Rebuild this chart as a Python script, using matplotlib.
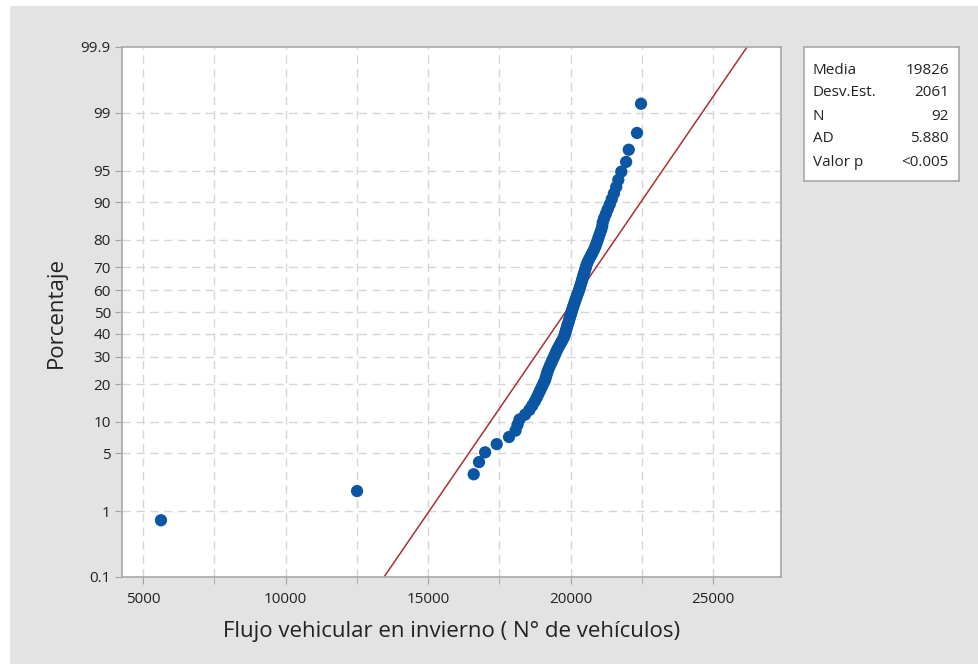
import numpy as np
import matplotlib
matplotlib.use('Agg')
import matplotlib.pyplot as plt
from matplotlib.patches import Rectangle
from statistics import NormalDist

plt.rcParams['font.family'] = ['Open Sans', 'DejaVu Sans']

# ---- data ----
flujo = [5630, 12510, 16604, 16790, 17004, 17411, 17843, 18071, 18141, 18211,
         18408, 18555, 18657, 18745, 18815, 18878, 18938, 18994, 19050, 19106,
         19138, 19170, 19201, 19243, 19285, 19331, 19373, 19418, 19457, 19499,
         19541, 19590, 19636, 19685, 19731, 19777, 19801, 19826, 19850, 19875,
         19899, 19927, 19948, 19976, 20001, 20025, 20050, 20074, 20099, 20127,
         20155, 20187, 20215, 20243, 20275, 20303, 20331, 20359, 20384, 20408,
         20436, 20461, 20489, 20514, 20542, 20570, 20612, 20661, 20714, 20766,
         20819, 20868, 20907, 20949, 20987, 21029, 21075, 21113, 21131, 21176,
         21239, 21303, 21376, 21447, 21524, 21604, 21678, 21783, 21952, 22043,
         22334, 22475]
media = 19826
desv = 2061
stat_labels = ['Media', 'Desv.Est.', 'N', 'AD', 'Valor p']
stat_values = ['19826', '2061', '92', '5.880', '<0.005']
y_ticks = [0.1, 1, 5, 10, 20, 30, 40, 50, 60, 70, 80, 90, 95, 99, 99.9]
y_ticklabels = ['0.1', '1', '5', '10', '20', '30', '40', '50', '60', '70', '80', '90', '95', '99', '99.9']
x_ticks = [5000, 10000, 15000, 20000, 25000]

ND = NormalDist()
_inv = np.vectorize(lambda v: ND.inv_cdf(v), otypes=[float])
_cdf = np.vectorize(lambda v: ND.cdf(v), otypes=[float])

def fwd(p):
    p = np.clip(np.asarray(p, float), 1e-7, 100 - 1e-7)
    return _inv(p / 100.0)

def back(z):
    return _cdf(np.asarray(z, float)) * 100.0

n = len(flujo)
xs = np.sort(np.array(flujo, float))
pct = (np.arange(1, n + 1) - 0.3) / (n + 0.4) * 100

W, H = 979, 664
fig = plt.figure(figsize=(W / 100, H / 100), dpi=100)
fig.patch.set_facecolor('#e3e3e3')
# white strips at top and left
fig.add_artist(Rectangle((0, 1 - 6 / H), 1, 6 / H, transform=fig.transFigure,
                         facecolor='white', edgecolor='none', zorder=0))
fig.add_artist(Rectangle((0, 0), 10 / W, 1, transform=fig.transFigure,
                         facecolor='white', edgecolor='none', zorder=0))

L, R, T, B = 122, 781, 47, 577
ax = fig.add_axes([L / W, 1 - B / H, (R - L) / W, (B - T) / H])
ax.set_facecolor('white')
ax.set_yscale('function', functions=(fwd, back))
ax.set_ylim(0.1, 99.9)
ax.set_xlim(4263, 27386)

# grid
for yt in y_ticks[1:-1]:
    ax.axhline(yt, color='#d6d6d6', lw=1.0, ls=(0, (6, 4)), zorder=0)
for xv in np.arange(5000, 27500, 2500):
    ax.axvline(xv, color='#d6d6d6', lw=1.0, ls=(0, (6, 4)), zorder=0)

# fit line
zz = np.linspace(-3.2, 3.2, 200)
ax.plot(media + desv * zz, back(zz), color='#a83232', lw=1.1, zorder=2)

ax.scatter(xs, pct, s=78, color='#0b55a5', edgecolors='none', zorder=3)

ax.set_yticks(y_ticks)
ax.set_yticklabels(y_ticklabels)
ax.yaxis.set_minor_locator(matplotlib.ticker.NullLocator())
ax.set_xticks(x_ticks)
ax.set_xticklabels([str(v) for v in x_ticks])
ax.set_xticks(np.arange(7500, 27500, 5000), minor=True)
ax.tick_params(axis='both', which='both', direction='out', length=5,
               color='#a0a0a0', labelsize=11, labelcolor='#222222')
ax.tick_params(axis='x', pad=6)
ax.tick_params(axis='y', pad=3)

for s in ax.spines.values():
    s.set_color('#a8a8a8')
    s.set_linewidth(1.2)

ax.set_xlabel('Flujo vehicular en invierno ( N° de vehículos)', fontsize=16,
              color='#222222', labelpad=10)
ax.set_ylabel('Porcentaje', fontsize=16, color='#222222', labelpad=10)

# stats box
bx0, by0, bx1, by1 = 804, 47, 959, 181
bax = fig.add_axes([bx0 / W, 1 - by1 / H, (bx1 - bx0) / W, (by1 - by0) / H])
bax.set_facecolor('white')
bax.set_xticks([])
bax.set_yticks([])
for s in bax.spines.values():
    s.set_color('#a8a8a8')
    s.set_linewidth(1.2)
rows_y = [70, 93, 116, 139, 162]
for lab, val, ry in zip(stat_labels, stat_values, rows_y):
    yy = 1 - (ry - by0) / (by1 - by0)
    bax.text(0.058, yy, lab, fontsize=11, va='center', ha='left',
             color='#222222', transform=bax.transAxes)
    bax.text(0.935, yy, val, fontsize=11, va='center', ha='right',
             color='#222222', transform=bax.transAxes)

fig.savefig('out.png', dpi=100, facecolor=fig.get_facecolor())
